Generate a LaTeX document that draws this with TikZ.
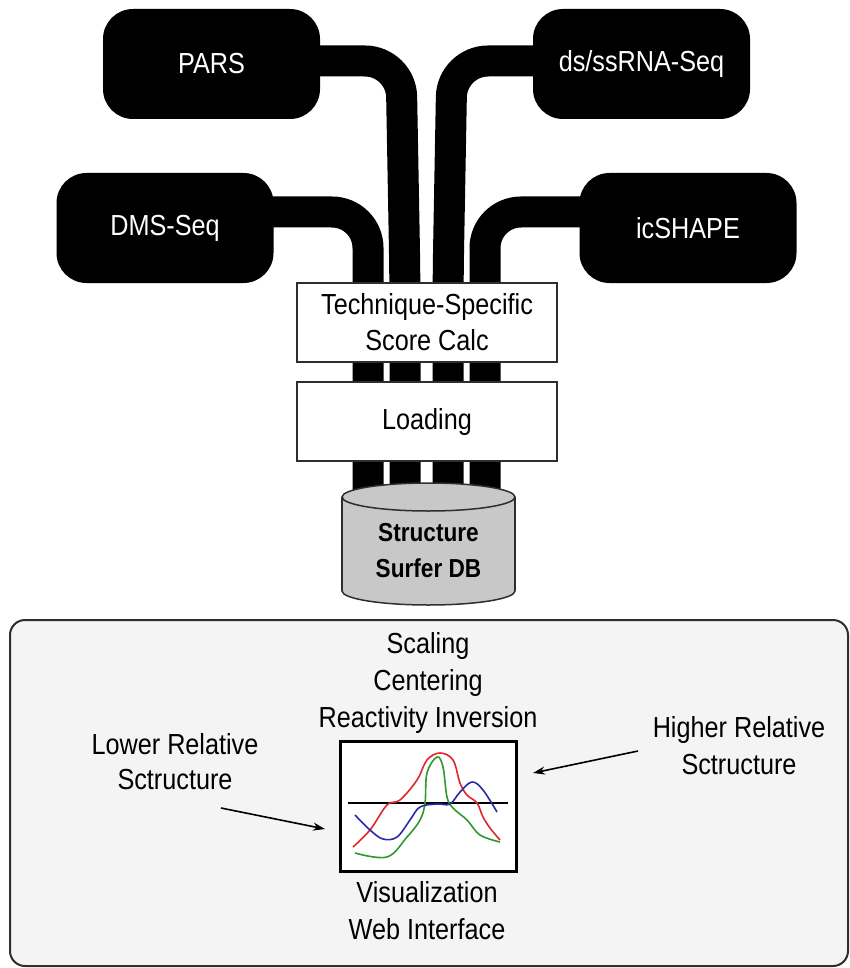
\documentclass[tikz,border=0pt]{standalone}
\usepackage{fontspec}
\setmainfont{Liberation Sans}[FakeStretch=0.87]
\usetikzlibrary{arrows.meta}
\definecolor{panelfill}{HTML}{F4F4F4}
\definecolor{edgegray}{HTML}{2E2E2E}
\definecolor{dbgray}{HTML}{C8C8C8}
\definecolor{cred}{HTML}{E0282A}
\definecolor{cgreen}{HTML}{2E9A2E}
\definecolor{cblue}{HTML}{2A2AA8}
\begin{document}
\begin{tikzpicture}[x=1pt,y=-1pt,
  lbl/.style={font=\fontsize{29}{37}\selectfont, align=center, inner sep=0pt},
  srcbox/.style={rectangle, rounded corners=30pt, fill=black, text=white, minimum width=217pt, minimum height=110pt, font=\fontsize{29}{35}\selectfont, inner sep=0pt},
  tube/.style={line width=31pt, black, rounded corners=36pt},
  stepbox/.style={rectangle, draw=edgegray, line width=2pt, fill=white, minimum width=260pt, minimum height=79pt, align=center, inner sep=0pt, font=\fontsize{29}{36}\selectfont},
  arr/.style={-{Stealth[length=12pt,width=8pt]}, line width=1.6pt},
  curve/.style={line width=1.6pt, smooth, tension=0.6}
]
\useasboundingbox (0,0) rectangle (850,968);

% source boxes
\node[srcbox] (pars) at (211.5,64) {PARS};
\node[srcbox] (dsss) at (641.5,64) {ds/ssRNA-Seq};
\node[srcbox] (dms) at (165,228) {DMS-Seq};
\node[srcbox] (icshape) at (688,228) {icSHAPE};

% tubes
\coordinate (dbtop) at (428.5,497);
\draw[tube] ([xshift=-20pt,yshift=16pt]dms.east) -- (368,212) -- (368,0 |- dbtop);
\draw[tube] ([xshift=-20pt,yshift=3pt]pars.east) -- (401,61) -- (405,280) -- (405,0 |- dbtop);
\draw[tube] ([xshift=20pt,yshift=3pt]dsss.west) -- (452,61) -- (448,280) -- (448,0 |- dbtop);
\draw[tube] ([xshift=20pt,yshift=16pt]icshape.west) -- (485,212) -- (485,0 |- dbtop);

% processing boxes
\node[stepbox] (tech) at (427,322.5) {Technique-Specific\\Score Calc};
\node[stepbox] (load) at (427,421.5) {Loading};

% database cylinder
\filldraw[fill=dbgray, draw=edgegray, line width=1.5pt] (428.5,591) ellipse [x radius=86.5pt, y radius=14pt];
\fill[dbgray] (342,497) rectangle (515,591);
\draw[edgegray, line width=1.5pt] (342,497) -- (342,591) (515,497) -- (515,591);
\filldraw[fill=dbgray, draw=edgegray, line width=1.5pt] (dbtop) ellipse [x radius=86.5pt, y radius=14pt];
\node[lbl, font=\bfseries\fontsize{26}{36}\selectfont] (db) at (428.5,550.5) {Structure\\Surfer DB};

% bottom panel
\draw[draw=edgegray, fill=panelfill, line width=2pt, rounded corners=15pt] (10,620) rectangle (848,966);

\node[lbl] (norm) at (428,682.5) {Scaling\\Centering\\Reactivity Inversion};
\node[lbl, font=\fontsize{29}{35}\selectfont] (lower) at (175,761.5) {Lower Relative\\Sctructure};
\node[lbl] (higher) at (739,746) {Higher Relative\\Sctructure};
\node[lbl] (vis) at (427,911) {Visualization\\Web Interface};

% chart
\node[draw=black, line width=3pt, fill=white, minimum width=176pt, minimum height=130pt, inner sep=0pt] (chart) at (428,806) {};
\draw[line width=1.5pt] (348,803) -- (508,803);
\draw[curve, cred] plot coordinates {(353,847) (370,830) (387,805) (400,800) (417,780) (427,760) (440,753) (453,760) (460,783) (467,795) (477,803) (483,817) (490,828) (500,840)};
\draw[curve, cgreen] plot coordinates {(355,853) (387,857) (407,837) (420,820) (425,803) (427,773) (437,757) (443,767) (447,797) (453,808) (467,820) (480,835) (500,842)};
\draw[curve, cblue] plot coordinates {(355,815) (370,830) (383,839) (397,837) (410,820) (420,807) (437,804) (450,804) (460,792) (472,782) (483,790) (497,812)};

% arrows
\coordinate (lowtail) at (221,808);
\coordinate (lowhead) at (325,829);
\coordinate (hightail) at (638,751);
\coordinate (highhead) at (533,773);
\draw[arr] (lowtail) -- (lowhead);
\draw[arr] (hightail) -- (highhead);
\end{tikzpicture}
\end{document}
